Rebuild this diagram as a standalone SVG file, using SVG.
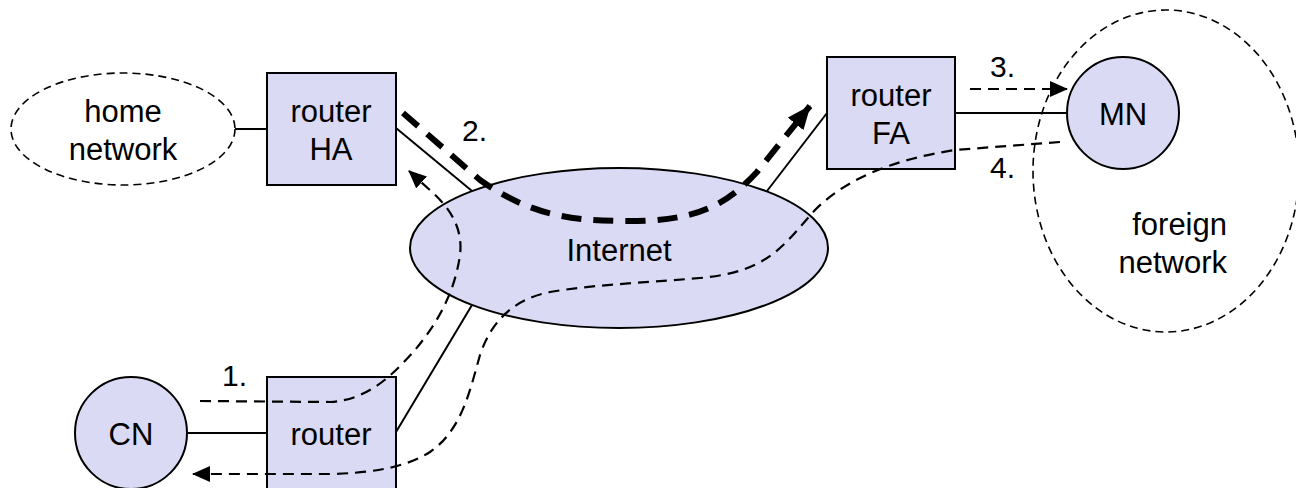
<svg xmlns="http://www.w3.org/2000/svg" width="1296" height="488" viewBox="0 0 1296 488">
<style>
.node{fill:#dadaf4;stroke:#000;stroke-width:2}
.net{fill:none;stroke:#000;stroke-width:1.6;stroke-dasharray:8 5}
.t{font-family:"Liberation Sans",Arial,sans-serif;font-size:31px;fill:#000;text-anchor:middle}
.lbl{font-family:"Liberation Sans",Arial,sans-serif;font-size:30px;fill:#000}
.wire{stroke:#000;stroke-width:2;fill:none}
.flow{stroke:#000;stroke-width:2.2;fill:none;stroke-dasharray:11 7}
.bold{stroke:#000;stroke-width:6;fill:none;stroke-dasharray:20 12}
</style>
<defs>
<marker id="ah" markerUnits="userSpaceOnUse" markerWidth="18" markerHeight="16" refX="17" refY="8" orient="auto">
<path d="M0,0 L18,8 L0,16 z" fill="#000"/>
</marker>
<marker id="ahb" markerUnits="userSpaceOnUse" markerWidth="24" markerHeight="20" refX="23" refY="10" orient="auto">
<path d="M0,0 L24,10 L0,20 z" fill="#000"/>
</marker>
</defs>
<rect width="1296" height="488" fill="#fff"/>
<g id="home-network">
<ellipse class="net" cx="123" cy="129" rx="112" ry="56"/>
<text class="t" x="123" y="122">home</text>
<text class="t" x="123" y="160">network</text>
</g>
<g id="foreign-network">
<ellipse class="net" cx="1166" cy="171" rx="133" ry="161"/>
<text class="t" x="1227" y="235" style="text-anchor:end">foreign</text>
<text class="t" x="1227" y="273" style="text-anchor:end">network</text>
</g>
<g id="internet">
<ellipse class="node" cx="619" cy="248" rx="209" ry="80"/>
<text class="t" x="619" y="261">Internet</text>
</g>
<g id="router-ha">
<rect class="node" x="267" y="73" width="129" height="112"/>
<text class="t" x="331" y="122">router</text>
<text class="t" x="331" y="160">HA</text>
</g>
<g id="router-fa">
<rect class="node" x="827" y="57" width="128" height="112"/>
<text class="t" x="891" y="106">router</text>
<text class="t" x="891" y="144">FA</text>
</g>
<g id="mn">
<circle class="node" cx="1123" cy="113" r="56"/>
<text class="t" x="1123" y="125">MN</text>
</g>
<g id="cn">
<circle class="node" cx="131" cy="433" r="56"/>
<text class="t" x="131" y="445">CN</text>
</g>
<g id="router-cn">
<rect class="node" x="267" y="377" width="129" height="114"/>
<text class="t" x="331" y="445">router</text>
</g>
<g id="connectors">
<line class="wire" x1="235" y1="129" x2="267" y2="129"/>
<line class="wire" x1="396" y1="128" x2="472" y2="191"/>
<line class="wire" x1="827" y1="113" x2="767" y2="191"/>
<line class="wire" x1="396" y1="432" x2="472" y2="305"/>
<line class="wire" x1="187" y1="433" x2="267" y2="433"/>
<line class="wire" x1="955" y1="113" x2="1067" y2="113"/>
<path class="flow" d="M200,401 L330,402 C370,400 395,372 415,350 C440,320 455,290 460,255 C463,230 452,210 432,192 L409,171" marker-end="url(#ah)"/>
<path class="bold" d="M403,113 L480,180 C530,215 570,221 627,221 C690,221 722,210 757,172 L810,106" marker-end="url(#ahb)"/>
<path class="flow" d="M970,89 L1067,89" marker-end="url(#ah)"/>
<path class="flow" d="M1060,142 L955,150 C890,160 845,180 815,210 C785,243 770,272 700,278 C640,283 590,285 550,292 C510,300 490,325 480,355 C470,390 462,430 430,452 C405,468 370,473 330,474 L193,474" marker-end="url(#ah)"/>
<text class="lbl" x="222" y="386">1.</text>
<text class="lbl" x="462" y="141">2.</text>
<text class="lbl" x="990" y="77">3.</text>
<text class="lbl" x="990" y="178">4.</text>
</g>
</svg>
